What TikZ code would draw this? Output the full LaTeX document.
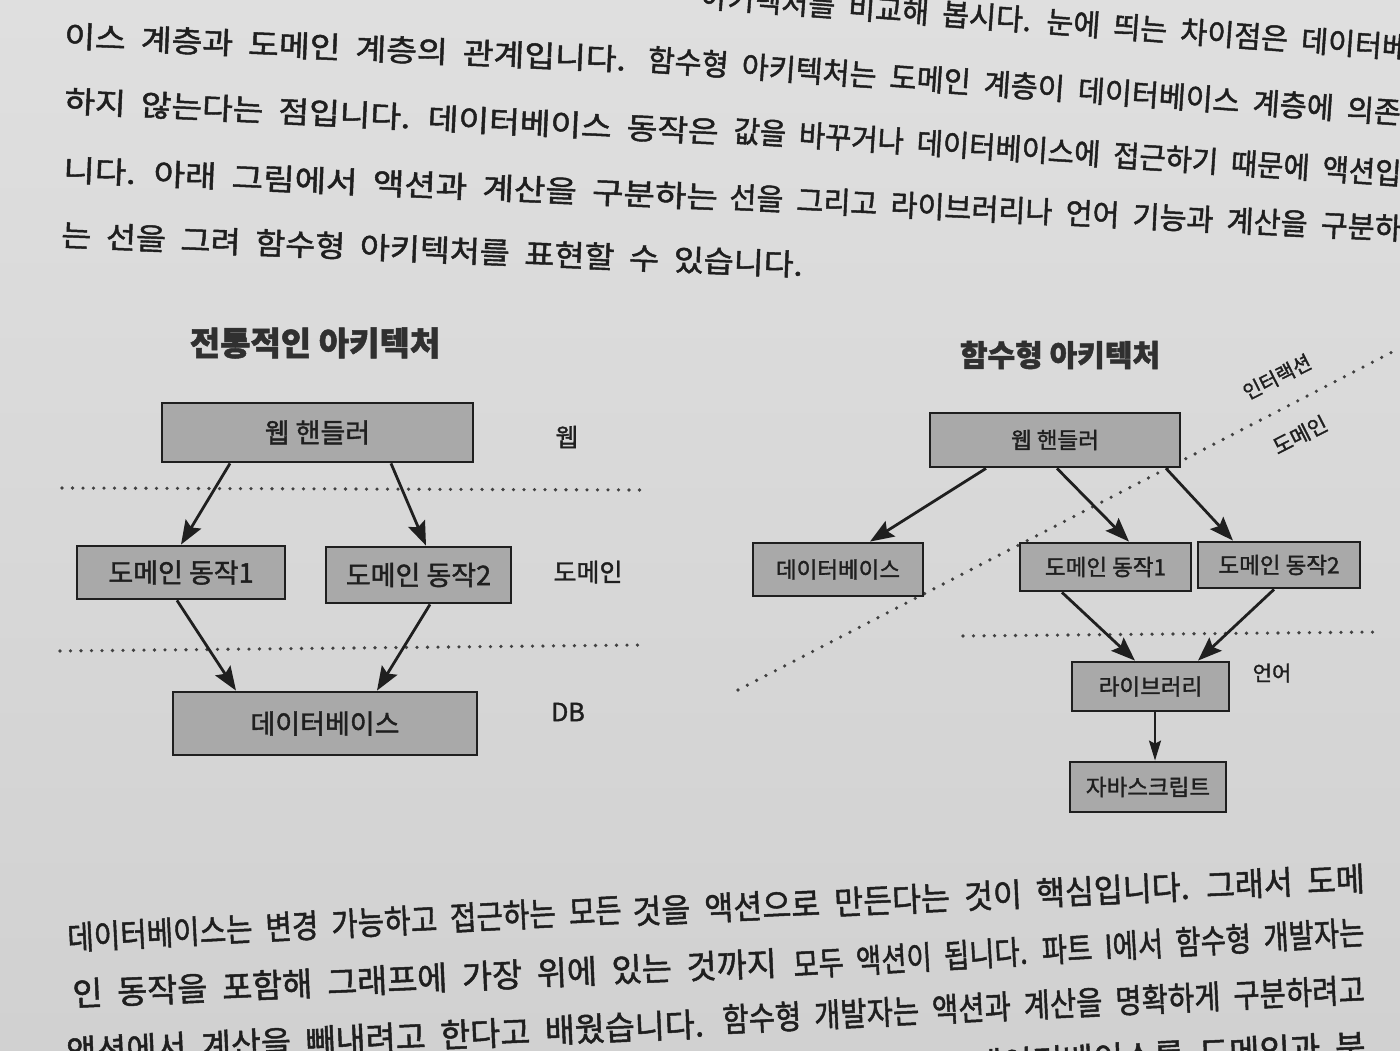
\documentclass[tikz,border=0pt]{standalone}
\usepackage{graphicx}
\usepackage{fontspec}
\setmainfont{Noto Sans CJK KR}[RawFeature={embolden=1.5}]
\usetikzlibrary{arrows.meta}
\definecolor{papertop}{HTML}{DFDFDF}
\definecolor{paperbot}{HTML}{D1D1D1}
\definecolor{boxgray}{HTML}{A9A9A9}
\definecolor{ink}{HTML}{1F1F1F}
\definecolor{titleink}{HTML}{303030}
\newcommand{\fsz}[1]{\fontsize{#1}{#1}\selectfont}
\newcommand{\bodyseg}[2]{\resizebox{#1pt}{\height}{\fsz{30}\spaceskip=0.45em\relax #2}}
\newcommand{\bodysegb}[2]{\resizebox{#1pt}{\height}{\fsz{33}\spaceskip=0.45em\relax #2}}
\tikzset{
  bodyline/.style={inner sep=0pt, outer sep=0pt, text=ink, anchor=base west},
  bx/.style={draw=ink, line width=2.8pt, fill=boxgray, inner sep=0pt, text=ink},
  lbx/.style={bx, font=\fsz{27}},
  rbx/.style={bx, font=\fsz{22.5}},
  arr/.style={draw=ink, line width=2.8pt, -{Stealth[length=24pt,width=18pt,inset=4pt]}},
  arrsmall/.style={draw=ink, line width=2.2pt, -{Stealth[length=20pt,width=12pt,inset=3pt]}},
  dotln/.style={draw=ink!85, line width=3.6pt, line cap=round, dash pattern=on 0pt off 10.5pt},
  lbl/.style={text=ink, inner sep=0pt},
}
\begin{document}
\begin{tikzpicture}[x=1pt,y=-1pt]
\useasboundingbox (0,0) rectangle (1400,1050);
\clip (0,0) rectangle (1400,1050);
\shade[top color=papertop, bottom color=paperbot] (0,0) rectangle (1400,1050);

% ---------- body text, top ----------
\node[bodyline, rotate=-4.2] (t1) at (700,7) {\bodyseg{710}{아키텍처를 비교해 봅시다. 눈에 띄는 차이점은 데이터베}};
\node[bodyline, rotate=-2.4] (t2a) at (64,47) {\bodyseg{562}{이스 계층과 도메인 계층의 관계입니다.}};
\node[bodyline, rotate=-4.05] (t2b) at (647,70.5) {\bodyseg{755}{함수형 아키텍처는 도메인 계층이 데이터베이스 계층에 의존}};
\node[bodyline, rotate=-2.7] (t3a) at (64,112) {\bodyseg{655}{하지 않는다는 점입니다. 데이터베이스 동작은}};
\node[bodyline, rotate=-3.7] (t3b) at (733,141.6) {\bodyseg{669}{값을 바꾸거나 데이터베이스에 접근하기 때문에 액션입}};
\node[bodyline, rotate=-2.4] (t4a) at (63,181) {\bodyseg{655}{니다. 아래 그림에서 액션과 계산을 구분하는}};
\node[bodyline, rotate=-2.7] (t4b) at (729,208) {\bodyseg{673}{선을 그리고 라이브러리나 언어 기능과 계산을 구분하}};
\node[bodyline, rotate=-2.3] (t5) at (61,246) {\bodyseg{742}{는 선을 그려 함수형 아키텍처를 표현할 수 있습니다.}};

% ---------- body text, bottom ----------
\node[bodyline, rotate=2.9] (b1a) at (68,950) {\bodysegb{555}{데이터베이스는 변경 가능하고 접근하는 모든}};
\node[bodyline, rotate=2.6] (b1b) at (633,924) {\bodysegb{733}{것을 액션으로 만든다는 것이 핵심입니다. 그래서 도메}};
\node[bodyline, rotate=2.5] (b2a) at (73,1006) {\bodysegb{705}{인 동작을 포함해 그래프에 가장 위에 있는 것까지}};
\node[bodyline, rotate=3.3] (b2b) at (794,977) {\bodysegb{572}{모두 액션이 됩니다. 파트 I에서 함수형 개발자는}};
\node[bodyline, rotate=2.5] (b3a) at (67,1064) {\bodysegb{638}{액션에서 계산을 빼내려고 한다고 배웠습니다.}};
\node[bodyline, rotate=2.7] (b3b) at (723,1032) {\bodysegb{643}{함수형 개발자는 액션과 계산을 명확하게 구분하려고}};
\node[bodyline, anchor=base east, rotate=2.7] (b4) at (1366,1058) {\fsz{33}\spaceskip=0.45em\relax 데이터베이스를 도메인과 분};

% ---------- dotted layer lines ----------
\draw[dotln] (62,488) -- (644,490);
\draw[dotln] (60,651) -- (642,645);
\draw[dotln] (738,690) -- (1400,348);
\draw[dotln] (963,636) -- (1380,632);

% ---------- titles ----------
\node[lbl, text=titleink, font=\fsz{33}\bfseries] (ltitle) at (315,343) {전통적인 아키텍처};
\node[lbl, text=titleink, font=\fsz{30}\bfseries] (rtitle) at (1060,355) {함수형 아키텍처};

% ---------- traditional architecture ----------
\node[lbx, minimum width=311pt, minimum height=59pt] (lweb) at (317.5,432.5) {웹 핸들러};
\node[lbx, minimum width=208pt, minimum height=53pt] (ld1) at (181,572.5) {도메인 동작1};
\node[lbx, minimum width=185pt, minimum height=56pt] (ld2) at (418.5,575) {도메인 동작2};
\node[lbx, minimum width=304pt, minimum height=63pt] (ldb) at (325,723.5) {데이터베이스};

\node[lbl, font=\fsz{25}] (lwl) at (567,437) {웹};
\node[lbl, font=\fsz{25}] (ldl) at (588,572) {도메인};
\node[lbl, font=\fsz{25}] (lbl3) at (568,712) {DB};

\draw[arr] ([xshift=-87.5pt]lweb.south) -- (ld1.north);
\draw[arr] ([xshift=73.5pt]lweb.south) -- ([xshift=7.5pt]ld2.north);
\draw[arr] ([xshift=-4pt]ld1.south) -- ([xshift=-89pt]ldb.north);
\draw[arr] ([xshift=11.5pt]ld2.south) -- ([xshift=52pt]ldb.north);

% ---------- functional architecture ----------
\node[rbx, minimum width=250pt, minimum height=54pt] (rweb) at (1055,440) {웹 핸들러};
\node[rbx, minimum width=170pt, minimum height=53pt] (rdb) at (838,569.5) {데이터베이스};
\node[rbx, minimum width=171pt, minimum height=48pt] (rd1) at (1105.5,567) {도메인 동작1};
\node[rbx, minimum width=162pt, minimum height=46pt] (rd2) at (1279,565) {도메인 동작2};
\node[rbx, minimum width=157pt, minimum height=49pt] (rlib) at (1150.5,686.5) {라이브러리};
\node[rbx, minimum width=156pt, minimum height=50pt] (rjs) at (1148,787) {자바스크립트};

\node[lbl, font=\fsz{21}] (rlang) at (1272,673) {언어};
\node[lbl, font=\fsz{20}, rotate=27] (rint) at (1277,377) {인터랙션};
\node[lbl, font=\fsz{21}, rotate=27] (rdom) at (1300,435) {도메인};

\draw[arr] ([xshift=-69pt]rweb.south) -- ([xshift=32pt]rdb.north);
\draw[arr] ([xshift=2pt]rweb.south) -- ([xshift=23.5pt]rd1.north);
\draw[arr] ([xshift=111pt]rweb.south) -- ([xshift=-46pt]rd2.north);
\draw[arr] ([xshift=-43.5pt]rd1.south) -- ([xshift=-15.5pt]rlib.north);
\draw[arr] ([xshift=-5pt]rd2.south) -- ([xshift=47.5pt]rlib.north);
\draw[arrsmall] ([xshift=4.5pt]rlib.south) -- ([xshift=7pt]rjs.north);
\end{tikzpicture}
\end{document}
